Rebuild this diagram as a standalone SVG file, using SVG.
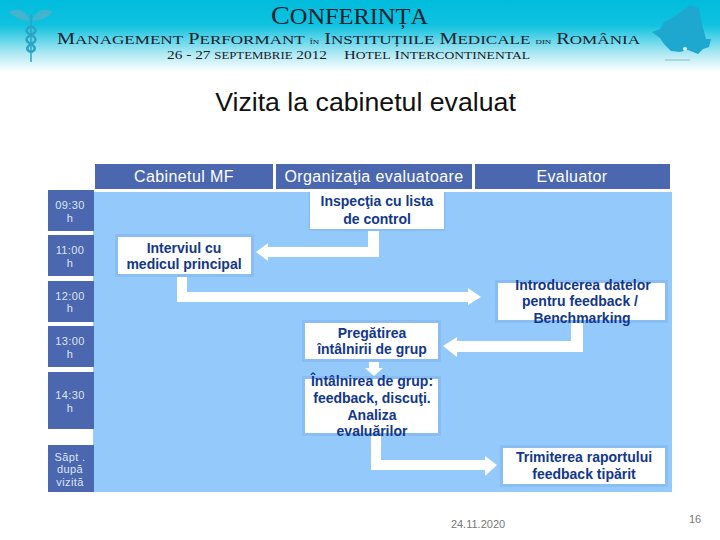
<svg xmlns="http://www.w3.org/2000/svg" width="720" height="540" viewBox="0 0 720 540">
<style>
.sc{font-family:"Liberation Serif",serif;fill:#13222e;text-anchor:middle}
.hd{font-family:"Liberation Sans",sans-serif;font-size:16px;fill:#fff;text-anchor:middle;letter-spacing:.4px}
.hb{fill:#4a67b0}
.tm{font-family:"Liberation Sans",sans-serif;font-size:11px;fill:#dfe5f3;text-anchor:middle;letter-spacing:.4px}
.bx{fill:#fff;stroke:#89bdf3;stroke-width:3}
.lb{font-family:"Liberation Sans",sans-serif;font-size:14px;font-weight:bold;fill:#12378c;text-anchor:middle}
.ar{fill:#fff}
.ft{font-family:"Liberation Sans",sans-serif;font-size:11px;fill:#777;text-anchor:middle}
</style>
<defs>
<linearGradient id="g" x1="0" y1="0" x2="0" y2="1">
<stop offset="0" stop-color="#00bcdc"/><stop offset=".35" stop-color="#10c2e0"/><stop offset=".75" stop-color="#b0e9f3"/><stop offset="1" stop-color="#fff"/>
</linearGradient>
</defs>
<rect width="720" height="540" fill="#fff"/>
<g id="banner">
<rect width="720" height="72" fill="url(#g)"/>
<g id="caduceus" fill="none" stroke="#2ba3c4">
<path d="M31 14V62" stroke-width="1.500"/>
<path d="M31 26c-6 3-6 6 0 9c6 3 6 6 0 9c-5 3-5 6 0 8M31 26c6 3 6 6 0 9c-6 3-6 6 0 9c5 3 5 6 0 8" stroke-width="2.500"/>
<path d="M29 18C24 9 16 8 9 12C14 17 22 21 29 21ZM33 18C38 9 46 8 53 12C48 17 40 21 33 21Z" fill="#43b3ce" stroke="none"/>
</g>
<g id="map">
<path d="M652 32L660 29L664 22L672 18L682 11L690 5L699 8L701 18L703 28L706 39L711 39L709 47L703 49L698 54L688 50L680 52L671 51L664 44L660 38Z" fill="#1fa8cf"/>
<circle cx="685" cy="49" r="2" fill="#dff6fb"/>
<path d="M665 60H690" stroke="#8fbcc8" stroke-width="1"/>
</g>
<text class="sc" x="349.500" y="24" font-size="26" textLength="157" lengthAdjust="spacingAndGlyphs">C<tspan font-size="22.500">ONFERINȚA</tspan></text>
<text class="sc" x="348.500" y="43.800" font-size="16" textLength="583" lengthAdjust="spacingAndGlyphs">M<tspan font-size="13.500">ANAGEMENT</tspan> P<tspan font-size="13.500">ERFORMANT</tspan> <tspan font-size="7">ÎN</tspan> I<tspan font-size="13.500">NSTITUȚIILE</tspan> M<tspan font-size="13.500">EDICALE</tspan> <tspan font-size="7">DIN</tspan> R<tspan font-size="13.500">OMÂNIA</tspan></text>
<text class="sc" x="247" y="59" font-size="12" textLength="160" lengthAdjust="spacingAndGlyphs">26 - 27 <tspan font-size="10">SEPTEMBRIE</tspan> 2012</text>
<text class="sc" x="437" y="59" font-size="12" textLength="186" lengthAdjust="spacingAndGlyphs">H<tspan font-size="10">OTEL</tspan> I<tspan font-size="10">NTERCONTINENTAL</tspan></text>
</g>
<text x="365.500" y="111" font-family="Liberation Sans,sans-serif" font-size="26.700" fill="#111" text-anchor="middle">Vizita la cabinetul evaluat</text>
<rect x="93" y="192" width="579" height="300" fill="#94c9fc"/>
<g id="head-cabinet"><rect class="hb" x="95" y="164" width="178" height="25"/><text class="hd" x="184" y="182">Cabinetul MF</text></g>
<g id="head-org"><rect class="hb" x="276" y="164" width="196" height="25"/><text class="hd" x="374" y="182">Organizaţia evaluatoare</text></g>
<g id="head-eval"><rect class="hb" x="475" y="164" width="195" height="25"/><text class="hd" x="572" y="182">Evaluator</text></g>
<g id="t1"><rect class="hb" x="48" y="190" width="46" height="41"/><text class="tm" x="70" y="209">09:30</text><text class="tm" x="70" y="222">h</text></g>
<g id="t2"><rect class="hb" x="48" y="235" width="46" height="41"/><text class="tm" x="70" y="254">11:00</text><text class="tm" x="70" y="267">h</text></g>
<g id="t3"><rect class="hb" x="48" y="281" width="46" height="41"/><text class="tm" x="70" y="300">12:00</text><text class="tm" x="70" y="312">h</text></g>
<g id="t4"><rect class="hb" x="48" y="326" width="46" height="41"/><text class="tm" x="70" y="345">13:00</text><text class="tm" x="70" y="358">h</text></g>
<g id="t5"><rect class="hb" x="48" y="372" width="46" height="57"/><text class="tm" x="70" y="399">14:30</text><text class="tm" x="70" y="412">h</text></g>
<g id="t6"><rect class="hb" x="48" y="445" width="46" height="47"/><text class="tm" x="70" y="461">Săpt .</text><text class="tm" x="70" y="473">după</text><text class="tm" x="70" y="486">vizită</text></g>
<g id="connectors">
<path class="ar" d="M368 229H379V257H268V261L256 252L268 243V247H368Z"/>
<path class="ar" d="M177 274H187V292H468V288L481 297L468 305V302H177Z"/>
<path class="ar" d="M571 320H583V352H457V357L443 346L457 337V341H571Z"/>
<path class="ar" d="M369 361H379V368H383L374 376L365 368H369Z"/>
<path class="ar" d="M371 434H381V460H485V456L497 465L485 476V470H371Z"/>
</g>
<g id="n1"><rect x="308.500" y="192" width="137" height="39" fill="#89bdf3"/><rect x="310" y="189" width="134" height="40" fill="#fff"/><text class="lb" x="377" y="206">Inspecţia cu lista</text><text class="lb" x="377" y="224">de control</text></g>
<g id="n2"><rect class="bx" x="116.500" y="235.500" width="136" height="40"/><text class="lb" x="184" y="253">Interviul cu</text><text class="lb" x="184" y="269">medicul principal</text></g>
<g id="n3"><rect class="bx" x="496.500" y="281.500" width="170" height="40"/><text class="lb" x="583" y="290">Introducerea datelor</text><text class="lb" x="580" y="306">pentru feedback /</text><text class="lb" x="582" y="323">Benchmarking</text></g>
<g id="n4"><rect class="bx" x="303.500" y="321.500" width="136" height="39"/><text class="lb" x="372" y="338">Pregătirea</text><text class="lb" x="372" y="354">întâlnirii de grup</text></g>
<g id="n5"><rect class="bx" x="303.500" y="377.500" width="136" height="57"/><text class="lb" x="372" y="386">Întâlnirea de grup:</text><text class="lb" x="372" y="403">feedback, discuţi.</text><text class="lb" x="372" y="420">Analiza</text><text class="lb" x="372" y="436">evaluărilor</text></g>
<g id="n6"><rect class="bx" x="501.500" y="446.500" width="165" height="39"/><text class="lb" x="584" y="462">Trimiterea raportului</text><text class="lb" x="584" y="479">feedback tipărit</text></g>
<text class="ft" x="478" y="528">24.11.2020</text>
<text class="ft" x="695" y="523">16</text>
</svg>
